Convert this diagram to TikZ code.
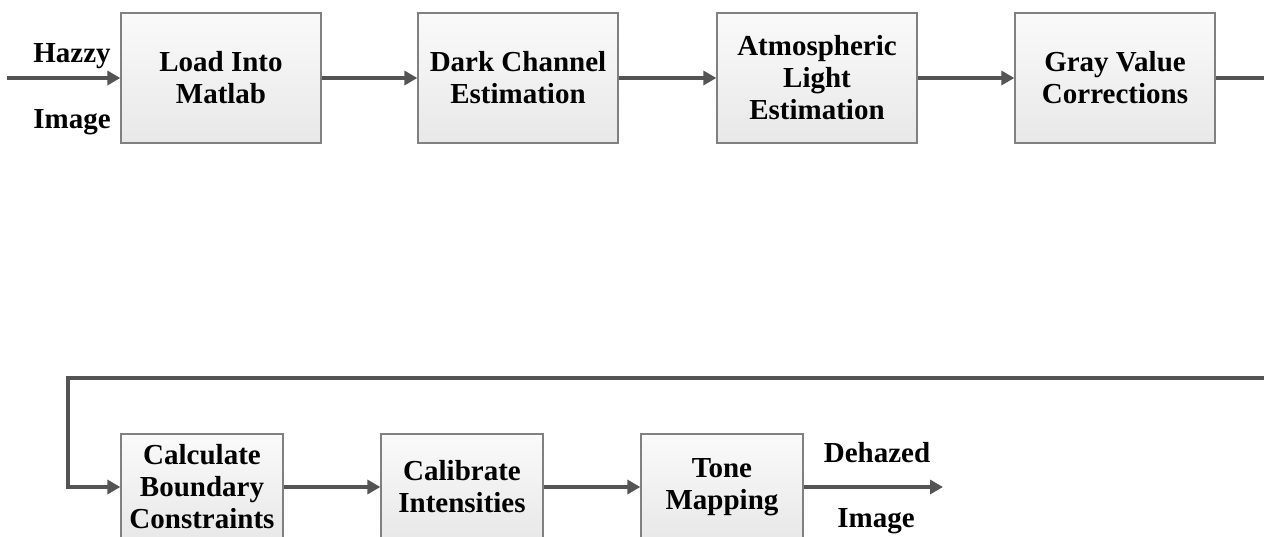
\documentclass[tikz,border=0pt]{standalone}
\usepackage{fontspec}
\setmainfont{Liberation Serif}[BoldFont={Liberation Serif Bold}]
\usepackage{tikz}
\usetikzlibrary{arrows.meta}

\begin{document}
\begin{tikzpicture}[x=1pt,y=-1pt,
    block/.style={draw=black!50,line width=1.3pt,top color=black!2,bottom color=black!9,
      align=center,inner sep=0pt,font=\bfseries\fontsize{29}{32}\selectfont},
    wide/.style={block,minimum width=200pt,minimum height=130pt},
    narrow/.style={block,minimum width=162pt,minimum height=106pt},
    lbl/.style={anchor=base,inner sep=0pt,font=\bfseries\fontsize{29}{32}\selectfont},
    flow/.style={draw=black!67,line width=3.5pt,-{Triangle[length=13pt,width=14pt]}}]
  \useasboundingbox (0,0) rectangle (1264,536);

  \node[wide] at (221,78) (load){Load Into\\Matlab};
  \node[wide] at (518,78) (dark){Dark Channel\\Estimation};
  \node[wide] at (817,78) (atmos){Atmospheric\\Light\\Estimation};
  \node[wide] at (1115,78) (gray){Gray Value\\Corrections};

  \node[narrow] at (202,487) (bound){Calculate\\Boundary\\Constraints};
  \node[narrow] at (462,487) (calib){Calibrate\\Intensities};
  \node[narrow] at (722,487) (tone){Tone\\Mapping};

  \coordinate (in) at (7,78);
  \coordinate (out) at (943,487);
  \coordinate (turnR) at (1290,378);
  \coordinate (turnL) at (68,378);

  \node[lbl] at (72,62) (hazzy){Hazzy};
  \node[lbl] at (72,128) (img1){Image};
  \node[lbl] at (877,462) (dehazed){Dehazed};
  \node[lbl] at (876,527) (img2){Image};

  \draw[flow] (in) -- (load);
  \draw[flow] (load) -- (dark);
  \draw[flow] (dark) -- (atmos);
  \draw[flow] (atmos) -- (gray);
  \draw[flow] (gray.east) -| (turnR) -- (turnL) |- (bound.west);
  \draw[flow] (bound) -- (calib);
  \draw[flow] (calib) -- (tone);
  \draw[flow] (tone) -- (out);
\end{tikzpicture}
\end{document}
